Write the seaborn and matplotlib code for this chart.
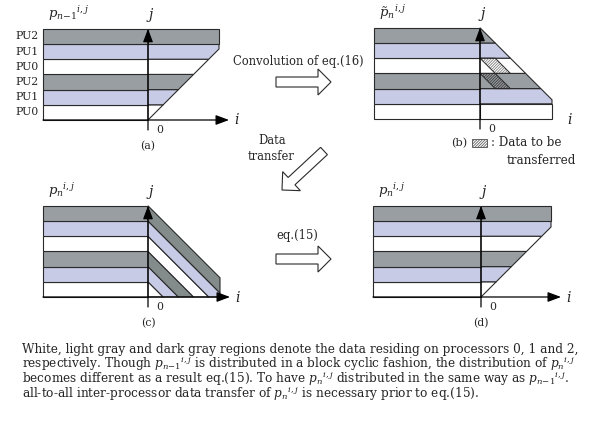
import numpy as np
import matplotlib
matplotlib.use("Agg")
import matplotlib.pyplot as plt
from matplotlib.patches import Polygon, Rectangle, FancyArrow
import seaborn as sns

sns.set_style("white")
plt.rcParams['font.family'] = ['DejaVu Serif']
plt.rcParams['mathtext.fontset'] = 'dejavuserif'
plt.rcParams['hatch.linewidth'] = 0.6

# processor owning each block row, bottom to top
band_owner = [0, 1, 2, 0, 1, 2]
pu_labels = ['PU0', 'PU1', 'PU2']
pu_colors = ['#ffffff', '#c8cbe6', '#999ea3']
stripe_dark = '#838c8b'
edge = '#2a2a2a'

panel_names = ['a', 'b', 'c', 'd']
panel_shape = ['stair', 'shear', 'stripe', 'stair']
panel_origin = [(148, 120), (480, 119), (148, 297), (481, 297)]
panel_left = [43, 374, 43, 373]
panel_width = [71, 72, 72, 70]
panel_titles = [r'$p_{n{-}1}{}^{i,j}$', r'$\tilde{p}_n{}^{i,j}$', r'$p_n{}^{i,j}$', r'$p_n{}^{i,j}$']
band_h = 15.2
n_bands = len(band_owner)

caption = [
    "White, light gray and dark gray regions denote the data residing on processors 0, 1 and 2,",
    r"respectively. Though $p_{n{-}1}{}^{i,j}$ is distributed in a block cyclic fashion, the distribution of $p_n{}^{i,j}$",
    r"becomes different as a result eq.(15). To have $p_n{}^{i,j}$ distributed in the same way as $p_{n{-}1}{}^{i,j}$.",
    r"all-to-all inter-processor data transfer of $p_n{}^{i,j}$ is necessary prior to eq.(15).",
]


def clip(poly, a, b, c):
    # keep the part of poly where a*u + b*h <= c
    out = []
    n = len(poly)
    for k in range(n):
        p, q = poly[k], poly[(k + 1) % n]
        fp = a * p[0] + b * p[1] - c
        fq = a * q[0] + b * q[1] - c
        if fp <= 0:
            out.append(p)
        if fp * fq < 0:
            t = fp / (fp - fq)
            out.append((p[0] + t * (q[0] - p[0]), p[1] + t * (q[1] - p[1])))
    return out


def to_px(poly, origin):
    return [(origin[0] + u, origin[1] - h) for u, h in poly]


fig = plt.figure(figsize=(5.93, 4.23), dpi=100)
ax = fig.add_axes([0, 0, 1, 1])
ax.set_xlim(0, 593)
ax.set_ylim(423, 0)
ax.axis('off')

head = '-|>,head_length=0.8,head_width=0.3'
H = band_h * n_bands
for name, shape, org, left, W, title in zip(panel_names, panel_shape, panel_origin,
                                            panel_left, panel_width, panel_titles):
    x0, y0 = org
    for k, owner in enumerate(band_owner):
        lo, hi = k * band_h, (k + 1) * band_h
        # left part of the band
        ax.add_patch(Rectangle((left, y0 - hi), x0 - left, band_h,
                               facecolor=pu_colors[owner], edgecolor=edge, lw=0.8))
        if shape == 'stripe':
            poly = [(0, 0), (W, 0), (W, H), (0, H)]
            poly = clip(poly, 1, 1, hi)
            poly = clip(poly, -1, -1, -lo)
            color = stripe_dark if owner == 2 else pu_colors[owner]
        else:
            poly = [(0, lo), (W, lo), (W, hi), (0, hi)]
            if shape == 'stair':
                poly = clip(poly, 1, -1, 0)
            else:
                poly = clip(poly, 1, 1, H)
            color = pu_colors[owner]
        if len(poly) > 2:
            ax.add_patch(Polygon(to_px(poly, org), closed=True,
                                 facecolor=color, edgecolor=edge, lw=0.8))
        if name == 'a':
            ax.text(39, y0 - (lo + hi) / 2, pu_labels[owner], ha='right', va='center', fontsize=7.8)

    # hatched blocks of panel (b)
    if name == 'b':
        for k, hcol in [(3, '#808080'), (2, '#3a3a3a')]:
            lo, hi = k * band_h, (k + 1) * band_h
            poly = [(0, lo), (W, lo), (W, hi), (0, hi)]
            poly = clip(poly, 1, 1, (k + 2) * band_h)
            poly = clip(poly, -1, -1, -(k + 1) * band_h)
            pts = to_px(poly, org)
            ax.add_patch(Polygon(pts, closed=True, facecolor='none', edgecolor=hcol,
                                 hatch='////////////', lw=0))
            ax.add_patch(Polygon(pts, closed=True, facecolor='none', edgecolor=edge, lw=0.7))

    # axes
    top = y0 - H
    ax.annotate('', xy=(x0, top), xytext=(x0, y0 + 10),
                arrowprops=dict(arrowstyle=head, color='black', lw=0.9, shrinkA=0, shrinkB=0))
    if name != 'b':
        ax.annotate('', xy=(x0 + W + 10, y0), xytext=(left, y0),
                    arrowprops=dict(arrowstyle=head, color='black', lw=0.9, shrinkA=0, shrinkB=0))
    ax.text(x0 + W + 18, y0, '$i$', ha='center', va='center', fontsize=10)
    ax.text(x0 + 2, top - 14, '$j$', ha='center', va='center', fontsize=10)
    ax.text(x0 + 12, y0 + 10, '0', ha='center', va='center', fontsize=7.8)
    ax.text(left + 5, top - 15, title, ha='left', va='center', fontsize=9.5)
    if name != 'b':
        ax.text(x0, y0 + 26, '(%s)' % name, ha='center', va='center', fontsize=7.8)

# legend of panel (b)
ax.text(459, 143, '(b)', ha='center', va='center', fontsize=8.2)
ax.add_patch(Rectangle((472, 139), 15, 8, facecolor='white', edgecolor='#606060',
                       hatch='////////////', lw=0.7))
ax.text(491, 143, ': Data to be', ha='left', va='center', fontsize=8.6)
ax.text(507, 161, 'transferred', ha='left', va='center', fontsize=8.6)

# block arrows between panels
arrow_kw = dict(width=10, head_width=26, head_length=13, length_includes_head=True,
                facecolor='white', edgecolor=edge, lw=0.8)
ax.add_patch(FancyArrow(276, 82, 55, 0, **arrow_kw))
ax.add_patch(FancyArrow(276, 259, 55, 0, **arrow_kw))
ax.add_patch(FancyArrow(324, 151, -42, 39, **arrow_kw))
ax.text(298, 62, 'Convolution of eq.(16)', ha='center', va='center', fontsize=8.3)
ax.text(297, 235, 'eq.(15)', ha='center', va='center', fontsize=8.3)
ax.text(272, 140, 'Data', ha='center', va='center', fontsize=8.3)
ax.text(271, 156, 'transfer', ha='center', va='center', fontsize=8.3)

for n, line in enumerate(caption):
    ax.text(22, 349 + n * 15, line, ha='left', va='center', fontsize=8.7)

fig.savefig('out.png', dpi=100)
